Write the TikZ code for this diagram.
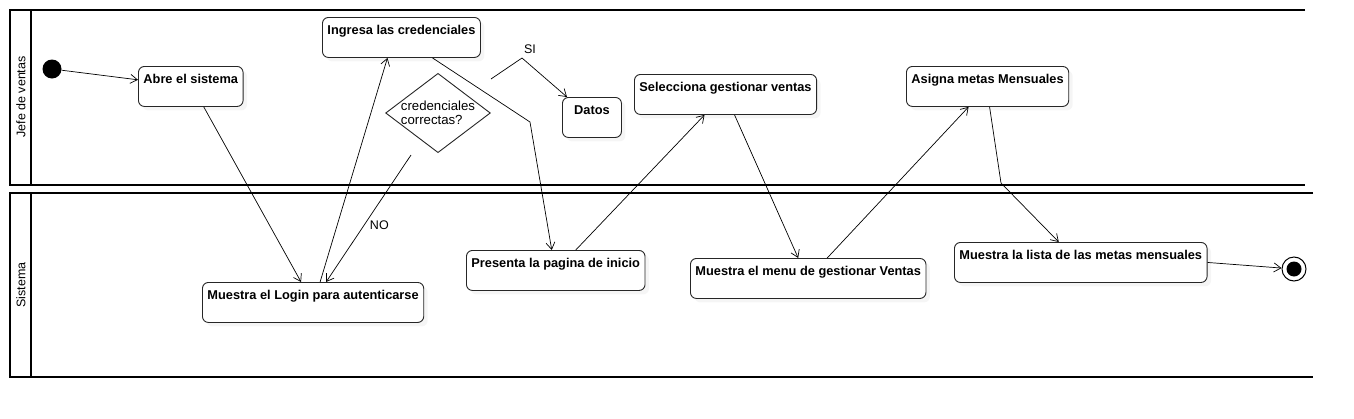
\documentclass[tikz,border=0pt]{standalone}
\usepackage{fontspec}
\setmainfont{Liberation Sans}
\usetikzlibrary{arrows.meta, positioning, shapes.geometric, shadows}

\begin{document}
\begin{tikzpicture}[x=1pt, y=-1pt, >={Straight Barb[length=7pt,width=9pt]}, font=\fontsize{12.5}{14}\selectfont,
  act/.style={draw=black!85, line width=0.9pt, rounded corners=6pt, fill=white, anchor=north west, font=\bfseries\fontsize{12.8}{14}\selectfont, inner xsep=5pt, inner ysep=4pt, text height=13pt, text depth=19pt, drop shadow={shadow xshift=4pt, shadow yshift=-4pt, opacity=0.08}},
  lane/.style={line width=1.7pt},
  flow/.style={->, line width=0.7pt}]
\useasboundingbox (0,0) rectangle (1354,418);
% carriles
\draw[lane] (1305,10) -- (10,10) -- (10,185) -- (1305,185);
\draw[lane] (31,10) -- (31,185);
\draw[lane] (1313,193) -- (10,193) -- (10,377) -- (1313,377);
\draw[lane] (31,193) -- (31,377);
\node[rotate=90] (lanejefe) at (21,97) {Jefe de ventas};
\node[rotate=90] (lanesis) at (21,285) {Sistema};
% nodos
\node[circle, fill=black, minimum size=19pt, inner sep=0pt] (inicio) at (52,69) {};
\node[act] (abre) at (138,66) {Abre el sistema};
\node[act] (ingresa) at (322,17) {Ingresa las credenciales};
\node[diamond, draw=black!85, line width=0.9pt, fill=white, minimum width=104pt, minimum height=79pt, aspect=1.32, inner sep=0pt, align=left, font=\fontsize{13.2}{13.5}\selectfont] (cred) at (438,113) {credenciales\\correctas?};
\node[act, minimum width=59pt] (datos) at (562,97) {Datos};
\node[act] (login) at (202,282) {Muestra el Login para autenticarse};
\node[act] (presenta) at (466,250) {Presenta la pagina de inicio};
\node[act] (selecciona) at (634,74) {Selecciona gestionar ventas};
\node[act] (menu) at (690,258) {Muestra el menu de gestionar Ventas};
\node[act] (asigna) at (906,66) {Asigna metas Mensuales};
\node[act] (lista) at (954,242) {Muestra la lista de las metas mensuales};
\node[circle, draw, line width=1pt, fill=white, minimum size=24pt, inner sep=0pt, path picture={\fill[black] (path picture bounding box.center) circle (7.5pt);}] (fin) at (1294,269) {};
\coordinate (si1) at (491,79);
\coordinate (no1) at (411,155);
% flujos
\draw[flow] (inicio) -- (abre);
\draw[flow] ([xshift=13pt]abre.south) -- ([xshift=-12pt]login.north);
\draw[flow] ([xshift=7pt]login.north) -- ([xshift=-14pt]ingresa.south);
\draw[flow] ([xshift=31pt]ingresa.south) -- (530,122) -- ([xshift=-4pt]presenta.north);
\draw[flow] (si1) -- (522,58) node[above=1pt, xshift=8pt] {SI} -- ([xshift=5pt]datos.north west);
\draw[flow] (no1) -- ([xshift=13pt]login.north) node[pos=0.55, right=2pt] {NO};
\draw[flow] ([xshift=20pt]presenta.north) -- ([xshift=-21pt]selecciona.south);
\draw[flow] ([xshift=9pt]selecciona.south) -- ([xshift=-10pt]menu.north);
\draw[flow] ([xshift=19pt]menu.north) -- ([xshift=-19pt]asigna.south);
\draw[flow] ([xshift=2pt]asigna.south) -- (1001,183) -- ([xshift=-22pt]lista.north);
\draw[flow] (lista.east) -- (fin);
\end{tikzpicture}
\end{document}
